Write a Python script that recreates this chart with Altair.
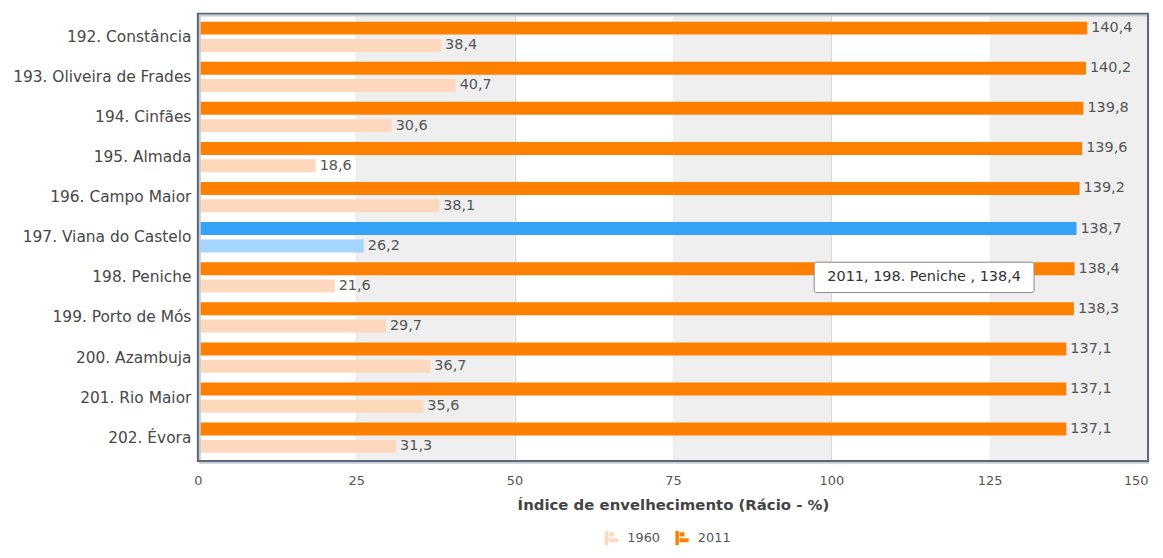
import altair as alt
import pandas as pd

categories = ["192. Constância", "193. Oliveira de Frades", "194. Cinfães", "195. Almada",
              "196. Campo Maior", "197. Viana do Castelo", "198. Peniche", "199. Porto de Mós",
              "200. Azambuja", "201. Rio Maior", "202. Évora"]
values_2011 = [140.4, 140.2, 139.8, 139.6, 139.2, 138.7, 138.4, 138.3, 137.1, 137.1, 137.1]
values_1960 = [38.4, 40.7, 30.6, 18.6, 38.1, 26.2, 21.6, 29.7, 36.7, 35.6, 31.3]
highlight = "197. Viana do Castelo"
x_ticks = [0, 25, 50, 75, 100, 125, 150]
bands = [(25, 50), (75, 100), (125, 150)]
tooltip_cat = "198. Peniche"
tooltip_text = "2011, 198. Peniche , 138,4"
tooltip_x = (97.3, 132.0)

rows = []
for c, v11, v60 in zip(categories, values_2011, values_1960):
    for s, v in (("2011", v11), ("1960", v60)):
        key = s + (" h" if c == highlight else "")
        rows.append({"cat": c, "series": s, "key": key, "value": v,
                     "label": f"{v:.1f}".replace(".", ",")})
df = pd.DataFrame(rows)

font = "DejaVu Sans"
xscale = alt.Scale(domain=[0, 150], nice=False)
ycat = alt.Y("cat:N", sort=categories, title=None,
             scale=alt.Scale(paddingInner=0.245, paddingOuter=0.2),
             axis=alt.Axis(labelFont=font, labelFontSize=15.5, labelColor="#474747",
                           ticks=False, domain=False, labelPadding=7, grid=False))
xq = alt.X("value:Q", title="Índice de envelhecimento (Rácio - %)", scale=xscale,
           axis=alt.Axis(values=x_ticks, labelFont=font, labelFontSize=13, labelColor="#555",
                         ticks=False, domain=False, gridColor="#cfcfcf", labelPadding=14,
                         labelFlush=False, grid=True,
                         labelAlign={"condition": {"test": "datum.value >= 150", "value": "right"},
                                     "value": "center"},
                         titleFont=font, titleFontSize=15, titleColor="#444",
                         titleFontWeight="bold", titlePadding=10))
yoff = alt.YOffset("series:N", sort=["2011", "1960"],
                   scale=alt.Scale(paddingInner=0.25, paddingOuter=0))

band_df = pd.DataFrame({"x0": [b[0] for b in bands], "x1": [b[1] for b in bands]})
bg = alt.Chart(band_df).mark_rect(color="#efefef").encode(
    x=alt.X("x0:Q", scale=xscale), x2="x1:Q")

shape = "M-1,-1H-0.5V1H-1Z M-0.4,-0.85H0.3V-0.25H-0.4Z M-0.4,0H0.9V0.6H-0.4Z"
bars = alt.Chart(df).mark_bar().encode(
    y=ycat, x=xq, yOffset=yoff,
    color=alt.Color("key:N",
                    scale=alt.Scale(domain=["1960", "2011", "1960 h", "2011 h"],
                                    range=["#fdd8bc", "#ff8000", "#a6d6ff", "#36a2f5"]),
                    legend=alt.Legend(values=["1960", "2011"], orient="none", title=None,
                                      direction="horizontal", legendX=409, legendY=520,
                                      padding=0, symbolType=shape, symbolSize=200,
                                      labelFont=font, labelFontSize=13, labelColor="#555",
                                      labelOffset=8, columnPadding=14,
                                      symbolStrokeWidth=0)))
labels = alt.Chart(df).mark_text(align="left", dx=4, font=font, fontSize=14.5,
                                 color="#555").encode(
    y=ycat, x=xq, yOffset=yoff, text="label:N")

frame_df = pd.DataFrame({"x0": [0], "x1": [150]})
shadow = alt.Chart(frame_df).mark_rect(fill=None, stroke="#c8cdd2", strokeWidth=2).encode(
    x=alt.X("x0:Q", scale=xscale), x2="x1:Q", y=alt.value(2), y2=alt.value(452),
    xOffset=alt.value(2))
frame = alt.Chart(frame_df).mark_rect(fill=None, stroke="#5a6878", strokeWidth=2).encode(
    x=alt.X("x0:Q", scale=xscale), x2="x1:Q", y=alt.value(0), y2=alt.value(450))

tip_df = pd.DataFrame({"cat": [tooltip_cat], "x0": [tooltip_x[0]], "x1": [tooltip_x[1]],
                       "t": [tooltip_text], "xm": [(tooltip_x[0] + tooltip_x[1]) / 2]})
tip_rect = alt.Chart(tip_df).mark_rect(fill="white", stroke="#8a8a8a", strokeWidth=1,
                                       cornerRadius=2).encode(
    y=alt.Y("cat:N", sort=categories), x="x0:Q", x2="x1:Q")
tip_text = alt.Chart(tip_df).mark_text(font=font, fontSize=14.5, color="#333").encode(
    y=alt.Y("cat:N", sort=categories), x="xm:Q", text="t:N")

chart = alt.layer(bg, bars, labels, shadow, frame, tip_rect, tip_text).properties(
    width=956, height=450,
    autosize=alt.AutoSizeParams(type="none"),
    padding={"left": 191, "top": 4, "right": 7, "bottom": 88}
).configure_view(stroke=None)

chart.save("out.html", embed_options={"renderer": "svg", "actions": False})
